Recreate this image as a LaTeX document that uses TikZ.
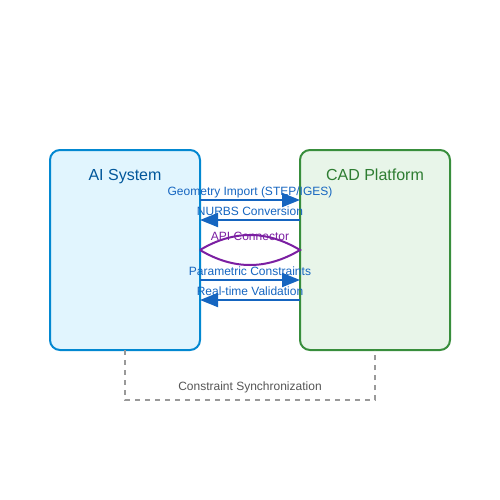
\documentclass[tikz,border=0pt]{standalone}
\usepackage{fontspec}
\setmainfont{Liberation Sans}
\usetikzlibrary{arrows.meta}

\definecolor{aifill}{HTML}{E1F5FE}
\definecolor{aidraw}{HTML}{0288D1}
\definecolor{aitext}{HTML}{01579B}
\definecolor{cadfill}{HTML}{E8F5E9}
\definecolor{caddraw}{HTML}{388E3C}
\definecolor{cadtext}{HTML}{2E7D32}
\definecolor{flow}{HTML}{1565C0}
\definecolor{link}{HTML}{7B1FA2}
\definecolor{sync}{HTML}{999999}
\definecolor{synctext}{HTML}{555555}

\tikzset{
  system/.style={draw, line width=2pt, rounded corners=10pt,
    minimum width=150pt, minimum height=200pt, inner sep=0pt, outer sep=0pt},
  title/.style={font=\fontsize{16}{19}\selectfont},
  flowline/.style={draw=flow, line width=2pt,
    -{Triangle[length=18pt,width=14pt]}},
  lbl/.style={font=\fontsize{12}{14}\selectfont, inner sep=0pt, anchor=base}
}

\begin{document}
\begin{tikzpicture}[x=1pt, y=-1pt]
    \useasboundingbox (0,0) rectangle (500,500);
    %% the two systems
    \node[system, fill=aifill, draw=aidraw] (ai) at (125,250) {};
    \node[system, fill=cadfill, draw=caddraw] (cad) at (375,250) {};
    \node[title, text=aitext, anchor=base] (aititle) at (125,180) {AI System};
    \node[title, text=cadtext, anchor=base] (cadtitle) at (375,180) {CAD Platform};
    %% data flows between them
    \draw[flowline] ([yshift=-50pt]ai.north east) -- ([yshift=-50pt]cad.north west)
      node[lbl, text=flow, midway, yshift=5pt] (geo) {Geometry Import (STEP/IGES)};
    \draw[flowline] ([yshift=-70pt]cad.north west) -- ([yshift=-70pt]ai.north east)
      node[lbl, text=flow, midway, yshift=5pt] (nurbs) {NURBS Conversion};
    % the connector lens
    \draw[link, line width=2pt] (ai.east) .. controls (233.3,230) and (266.7,230) .. (cad.west)
      .. controls (266.7,270) and (233.3,270) .. (ai.east);
    \node[lbl, text=link] (api) at (250,240) {API Connector};
    \draw[flowline] ([yshift=-130pt]ai.north east) -- ([yshift=-130pt]cad.north west)
      node[lbl, text=flow, midway, yshift=5pt] (param) {Parametric Constraints};
    \draw[flowline] ([yshift=-150pt]cad.north west) -- ([yshift=-150pt]ai.north east)
      node[lbl, text=flow, midway, yshift=5pt] (valid) {Real-time Validation};
    %% sync loop underneath
    \draw[sync, line width=1.5pt, dash pattern=on 5pt off 5pt]
      (ai.south) -- ++(0,50) -| (cad.south);
    \node[lbl, text=synctext] (synclbl) at (250,390) {Constraint Synchronization};
\end{tikzpicture}
\end{document}
